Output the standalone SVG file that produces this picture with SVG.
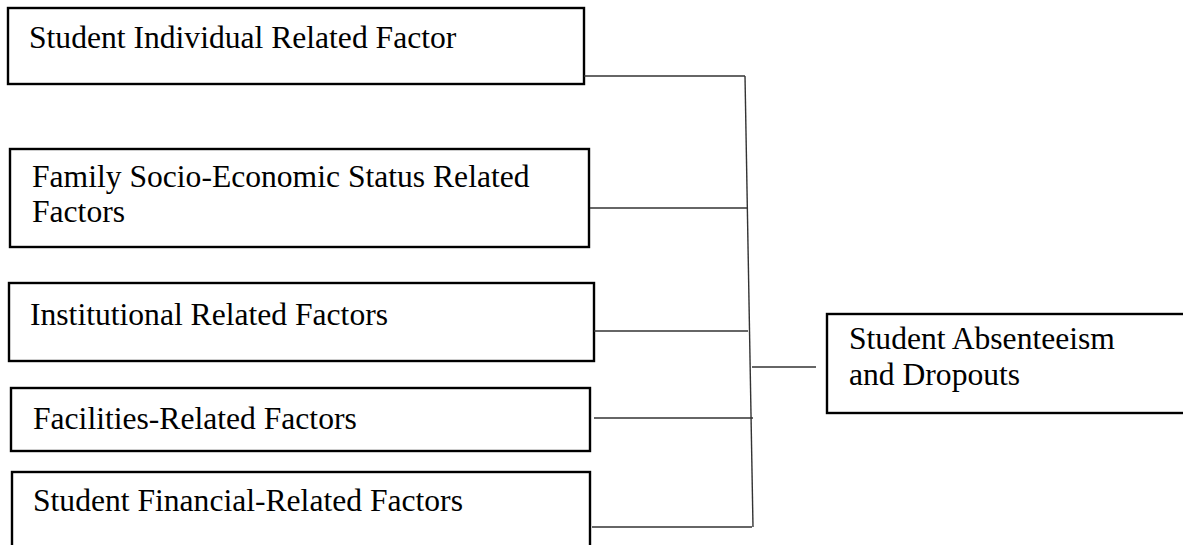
<svg xmlns="http://www.w3.org/2000/svg" width="1183" height="545" viewBox="0 0 1183 545">
<style>
.box{fill:#fff;stroke:#000;stroke-width:2.4}
.t{font-family:"Liberation Serif","Times New Roman",serif;font-size:31.6px;fill:#000}
.c{stroke:#333;stroke-width:1.4;fill:none}
</style>
<rect width="1183" height="545" fill="#fff"/>
<g id="n1"><rect class="box" x="8" y="8" width="576" height="76"/><text class="t" x="29" y="48">Student Individual Related Factor</text></g>
<g id="n2"><rect class="box" x="10" y="149" width="579" height="98"/><text class="t" x="32" y="187">Family Socio-Economic Status Related</text><text class="t" x="32" y="222">Factors</text></g>
<g id="n3"><rect class="box" x="9" y="283" width="585" height="78"/><text class="t" x="30" y="325">Institutional Related Factors</text></g>
<g id="n4"><rect class="box" x="11" y="388" width="579" height="63"/><text class="t" x="33" y="429">Facilities-Related Factors</text></g>
<g id="n5"><rect class="box" x="12" y="472" width="578" height="100"/><text class="t" x="33" y="511">Student Financial-Related Factors</text></g>
<g id="n6"><rect class="box" x="827" y="314" width="400" height="99"/><text class="t" x="849" y="349">Student Absenteeism</text><text class="t" x="849" y="385">and Dropouts</text></g>
<g id="connectors">
<line class="c" x1="584" y1="76" x2="745" y2="76"/>
<line class="c" x1="745" y1="76" x2="753" y2="527"/>
<line class="c" x1="590" y1="208" x2="748" y2="208"/>
<line class="c" x1="594" y1="331" x2="748" y2="331"/>
<line class="c" x1="594" y1="418" x2="753" y2="418"/>
<line class="c" x1="592" y1="527" x2="752" y2="527"/>
<line class="c" x1="752" y1="367" x2="816" y2="367"/>
</g>
</svg>
